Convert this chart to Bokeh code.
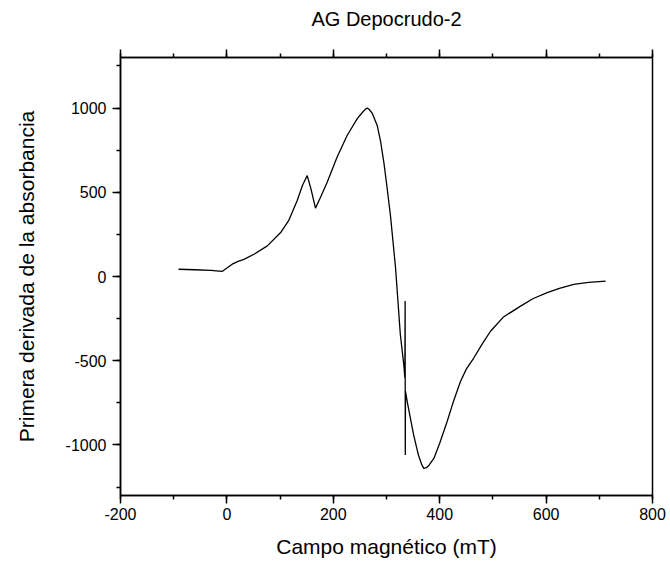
from bokeh.plotting import figure
from bokeh.models import LinearAxis, Range1d, FixedTicker
from bokeh.embed import file_html
from bokeh.resources import INLINE

# Data (magnetic field in mT, first derivative of absorbance)
campo = [-91, -60, -30, -9, 0, 10, 21, 32, 51, 76, 101, 116, 132, 142, 151, 158, 166.5,
         176, 188.5, 207, 226, 245, 255, 260, 264, 268, 273, 282.5, 289, 295, 301,
         307.5, 317, 326, 332.5, 334.5, 335, 335.3, 335.7, 340, 351, 360, 366, 370,
         375, 380, 389, 400, 414, 426, 439, 450, 464, 480, 495.5, 520, 552, 575,
         602, 625, 652, 680, 712]
derivada = [43, 40, 36, 30, 50, 73, 90, 102, 132, 182, 261, 331, 450, 540, 599, 520, 406,
            470, 559, 708, 837, 937, 975, 992, 1000, 990, 970, 897, 800, 678, 530,
            360, 52, -344, -523, -600, -146, -1060, -682, -760, -940, -1060, -1115, -1139,
            -1135, -1120, -1080, -990, -861, -740, -623, -550, -484, -400, -325, -240,
            -176, -132, -96, -70, -47, -35, -27]

x_ticks = [-200, 0, 200, 400, 600, 800]
y_ticks = [-1000, -500, 0, 500, 1000]
titulo = "AG Depocrudo-2"

FONT = "Liberation Sans"

p = figure(width=670, height=567, output_backend="svg", toolbar_location=None,
           x_range=Range1d(-200, 800), y_range=Range1d(-1300, 1300),
           min_border_left=120, min_border_right=18, min_border_top=57,
           min_border_bottom=72)

bottom = p.below[0]
left = p.left[0]

p.title.visible = False

p.grid.visible = False
p.outline_line_color = "black"
p.outline_line_width = 1.5

top = LinearAxis()
p.add_layout(top, "above")

for ax in [bottom, top]:
    ax.ticker = FixedTicker(ticks=x_ticks, minor_ticks=list(range(-200, 801, 100)))

left.ticker = FixedTicker(ticks=y_ticks, minor_ticks=list(range(-1250, 1251, 250)))

for ax in [bottom, left, top]:
    ax.axis_line_color = "black"
    ax.axis_line_width = 1.5
    ax.major_tick_line_color = "black"
    ax.major_tick_line_width = 1.5
    ax.minor_tick_line_color = "black"
    ax.minor_tick_line_width = 1.5
    ax.major_tick_in = 0
    ax.major_tick_out = 8
    ax.minor_tick_in = 0
    ax.minor_tick_out = 4
    ax.major_label_text_font = FONT
    ax.major_label_text_font_size = "16px"
    ax.major_label_text_color = "black"
    ax.axis_label_text_font = FONT
    ax.axis_label_text_font_size = "21px"
    ax.axis_label_text_font_style = "normal"
    ax.axis_label_text_color = "black"

top.major_label_overrides = {t: "" for t in x_ticks}
top.major_label_standoff = 0
top.axis_label = titulo
top.axis_label_text_font_size = "20px"
top.axis_label_standoff = 20
bottom.major_label_overrides = {t: str(t) for t in x_ticks}
left.major_label_overrides = {t: str(t) for t in y_ticks}

bottom.axis_label = "Campo magnético (mT)"
left.axis_label = "Primera derivada de la absorbancia"
bottom.major_label_standoff = 4
left.major_label_standoff = 6
bottom.axis_label_standoff = 12
left.axis_label_standoff = 25

p.line(campo, derivada, line_color="black", line_width=1.3)

open("out.html", "w").write(file_html(p, INLINE))
